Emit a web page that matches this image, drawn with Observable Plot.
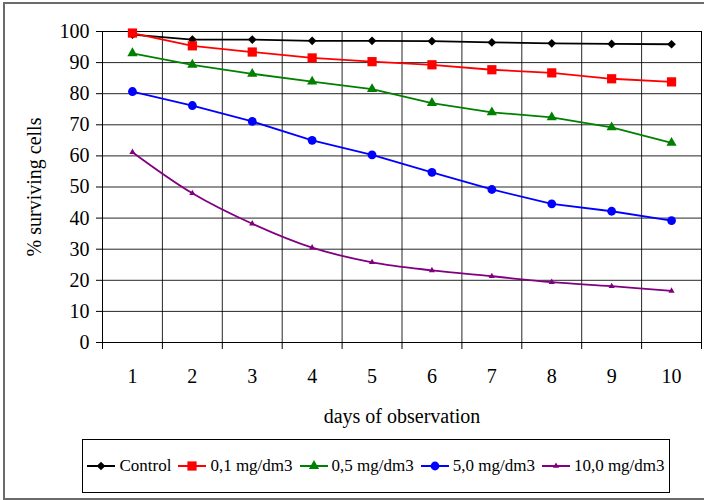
<!DOCTYPE html>
<html><head><meta charset="utf-8">
<script src="https://cdn.jsdelivr.net/npm/d3@7"></script>
<script src="https://cdn.jsdelivr.net/npm/@observablehq/plot@0.6"></script>
<style>
body{margin:0;background:#fff;}
#wrap{position:relative;width:704px;height:500px;overflow:hidden;font-family:"Liberation Serif",serif;background:#fff;}
#outer{position:absolute;left:3px;top:2px;width:760px;height:494px;border:2px solid #6b6b6b;}
#chart{position:absolute;left:0;top:0;}
#legend{position:absolute;left:82px;top:439px;width:588px;height:54px;border:1px solid #000;box-sizing:border-box;display:flex;align-items:center;justify-content:center;font-size:17px;color:#000;white-space:nowrap;}
.item{display:flex;align-items:center;margin:0 3.5px;flex:none;}
.item svg{margin-right:4px;}
</style></head><body>
<div id="wrap"><div id="outer"></div><div id="chart"></div><div id="legend"></div></div>
<script>
const days = [1, 2, 3, 4, 5, 6, 7, 8, 9, 10];
const seriesNames = ["Control", "0,1 mg/dm3", "0,5 mg/dm3", "5,0 mg/dm3", "10,0 mg/dm3"];
const control = [99.0, 97.4, 97.4, 97.0, 97.0, 96.9, 96.5, 96.2, 96.0, 95.9];
const dose01 = [99.5, 95.4, 93.4, 91.5, 90.3, 89.3, 87.7, 86.7, 84.8, 83.8];
const dose05 = [93.0, 89.3, 86.4, 83.9, 81.5, 77.0, 74.0, 72.4, 69.2, 64.2];
const dose50 = [80.7, 76.2, 71.1, 65.0, 60.3, 54.7, 49.2, 44.6, 42.2, 39.2];
const dose100 = [61.2, 48.0, 38.2, 30.5, 25.8, 23.2, 21.3, 19.4, 18.1, 16.6];
const yTicks = [0, 10, 20, 30, 40, 50, 60, 70, 80, 90, 100];
const xBounds = [0.5, 1.5, 2.5, 3.5, 4.5, 5.5, 6.5, 7.5, 8.5, 9.5, 10.5];
const yLabel = "% surviving cells";
const xLabel = "days of observation";

const styles = [
  {color: "#000000", symbol: "diamond2", r: 3.9, curve: "linear", d3sym: d3.symbolDiamond2},
  {color: "#ff0000", symbol: "square", r: 5.2, curve: "linear", d3sym: d3.symbolSquare},
  {color: "#008000", symbol: "triangle", r: 3.8, curve: "linear", d3sym: d3.symbolTriangle},
  {color: "#0000ff", symbol: "circle", r: 4.4, curve: "linear", d3sym: d3.symbolCircle},
  {color: "#800080", symbol: "triangle", r: 2.3, curve: "catmull-rom", d3sym: d3.symbolTriangle}
];
const valueLists = [control, dose01, dose05, dose50, dose100];
const tables = valueLists.map((vals, k) => days.map((d, i) => ({series: seriesNames[k], day: d, value: vals[i]})));

const font = "'Liberation Serif', serif";
const marks = [
  Plot.gridY(yTicks.slice(1, -1), {stroke: "#000", strokeOpacity: 0.85}),
  Plot.ruleX(xBounds.slice(1, -1), {stroke: "#000", strokeOpacity: 0.85}),
  Plot.frame({stroke: "#000"}),
  Plot.axisY(yTicks, {tickSize: 6, tickPadding: 7, stroke: "#000", fontSize: 20, fontFamily: font,
    label: yLabel, labelAnchor: "center", labelArrow: "none", labelOffset: 76}),
  Plot.axisX(xBounds, {tickSize: 7, tickFormat: () => "", stroke: "#000", label: null}),
  Plot.axisX(days, {tickSize: 0, tickPadding: 26, fontSize: 20, fontFamily: font,
    label: xLabel, labelAnchor: "center", labelArrow: "none", labelOffset: 80})
];
tables.forEach((t, k) => {
  const s = styles[k];
  marks.push(Plot.line(t, {x: "day", y: "value", stroke: s.color, strokeWidth: 1.8, curve: s.curve}));
  marks.push(Plot.dot(t, {x: "day", y: "value", fill: s.color, stroke: "none", symbol: () => s.symbol, r: s.r}));
});

const chart = Plot.plot({
  width: 704, height: 440,
  marginLeft: 102, marginRight: 3, marginTop: 31, marginBottom: 98,
  x: {domain: [0.5, 10.5]},
  y: {domain: [0, 100]},
  symbol: {type: "identity"},
  style: {fontFamily: font, fontSize: "20px", color: "#000", background: "transparent"},
  marks
});
document.getElementById("chart").appendChild(chart);

const legend = d3.select("#legend");
seriesNames.forEach((name, k) => {
  const s = styles[k];
  const item = legend.append("div").attr("class", "item");
  const svg = item.append("svg").attr("width", 28).attr("height", 14);
  svg.append("line").attr("x1", 0).attr("x2", 28).attr("y1", 7).attr("y2", 7).attr("stroke", s.color).attr("stroke-width", 2);
  svg.append("path").attr("transform", "translate(14,7)")
    .attr("d", d3.symbol(s.d3sym, Math.PI * s.r * s.r)()).attr("fill", s.color);
  item.append("span").text(name);
});
</script>
</body></html>
